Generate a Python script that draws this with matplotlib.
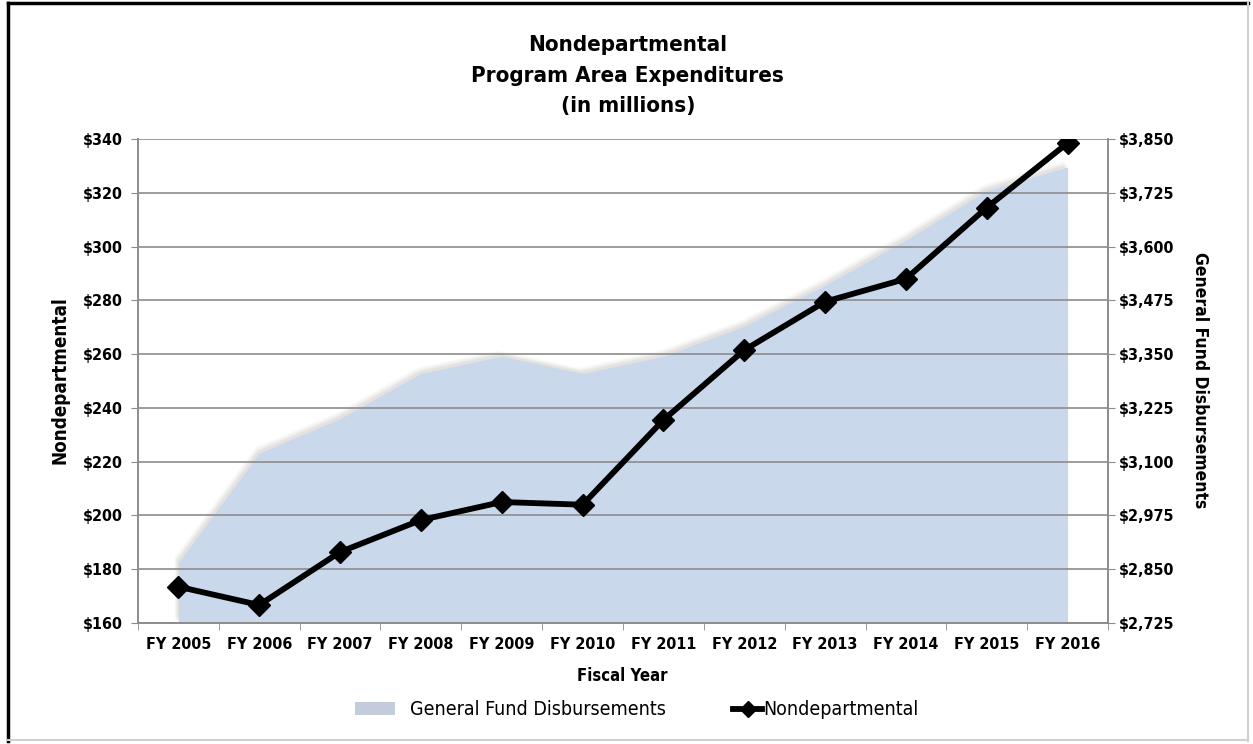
import matplotlib
matplotlib.use("Agg")
import matplotlib.pyplot as plt
from matplotlib.lines import Line2D
from matplotlib.patches import Patch
import matplotlib.transforms as mtransforms
import numpy as np

plt.rcParams['font.family'] = ['DejaVu Sans']
plt.rcParams['font.stretch'] = 'condensed'

years = ['FY 2005', 'FY 2006', 'FY 2007', 'FY 2008', 'FY 2009', 'FY 2010',
         'FY 2011', 'FY 2012', 'FY 2013', 'FY 2014', 'FY 2015', 'FY 2016']
nondept = [173.5, 166.7, 186.4, 198.3, 205.0, 204.0, 235.5, 261.5, 279.5, 288.0, 314.5, 338.5]
general_fund = [2865, 3120, 3200, 3305, 3345, 3305, 3345, 3415, 3510, 3615, 3730, 3785]

left_ticks = list(range(160, 341, 20))
right_ticks = list(range(2725, 3851, 125))

fig = plt.figure(figsize=(12.53, 7.44), dpi=100)
ax = fig.add_axes([0.1101, 0.1626, 0.7742, 0.6506])
ax2 = ax.twinx()
ax.set_zorder(ax2.get_zorder() + 1)
ax.patch.set_visible(False)

x = np.arange(len(years))
area_col = '#cad8eb'

# soft shadow on the area edge
for k, a in [(5, 0.05), (4, 0.06), (3, 0.08), (2, 0.1)]:
    tr = mtransforms.offset_copy(ax2.transData, fig=fig, x=-k * 0.6, y=k * 0.9, units='points')
    ax2.fill_between(x, 2725, general_fund, color='#9a9890', alpha=a, lw=0, transform=tr)
ax2.fill_between(x, 2725, general_fund, color=area_col, lw=0)

ax.plot(x, nondept, color='black', lw=4.2, marker='D', markersize=11, zorder=5)

ax.set_xlim(-0.5, 11.5)
ax.set_ylim(160, 340)
ax2.set_ylim(2725, 3850)

ax.set_yticks(left_ticks)
ax.set_yticklabels(['$%d' % v for v in left_ticks])
ax2.set_yticks(right_ticks)
ax2.set_yticklabels(['${:,}'.format(v) for v in right_ticks])

ax.set_xticks(x)
ax.set_xticklabels(years)
ax.set_xticks(np.arange(-0.5, 12, 1), minor=True)
ax.tick_params(axis='x', which='major', length=0, pad=10)
ax.tick_params(axis='x', which='minor', length=5, color='#8c8c8c')
ax.tick_params(axis='y', length=5, color='#8c8c8c', pad=6)
ax2.tick_params(axis='y', length=5, color='#8c8c8c', pad=3)

for lab in ax.get_xticklabels() + ax.get_yticklabels() + ax2.get_yticklabels():
    lab.set_fontweight('bold')
    lab.set_fontsize(11.5)

ax.grid(axis='y', color='#8c8c8c', lw=1.2)
ax.set_axisbelow(True)
for a in (ax, ax2):
    a.spines['top'].set_visible(False)
    for s in ('left', 'right', 'bottom'):
        a.spines[s].set_color('#8c8c8c')
        a.spines[s].set_linewidth(1.2)

fig.text(0.501, 0.898, 'Nondepartmental\nProgram Area Expenditures\n(in millions)',
         ha='center', va='center', fontsize=16, fontweight='bold', linespacing=1.65)
fig.text(0.048, 0.489, 'Nondepartmental', rotation=90, ha='center', va='center',
         fontsize=13.5, fontweight='bold')
fig.text(0.958, 0.489, 'General Fund Disbursements', rotation=270, ha='center', va='center',
         fontsize=12.5, fontweight='bold')
fig.text(0.497, 0.091, 'Fiscal Year', ha='center', va='center', fontsize=12, fontweight='bold')

leg1 = fig.legend([Patch(facecolor='#c4ccdc', edgecolor='none')], ['General Fund Disbursements'],
                  loc='center left', bbox_to_anchor=(0.2833, 0.0457), frameon=False,
                  fontsize=14, handlelength=2.06, handletextpad=0.77,
                  borderpad=0, borderaxespad=0)
leg2 = fig.legend([Line2D([0], [0], color='black', lw=4.2, marker='D', markersize=8)],
                  ['Nondepartmental'],
                  loc='center left', bbox_to_anchor=(0.585, 0.0457), frameon=False,
                  fontsize=14, handlelength=1.5, handletextpad=0.05,
                  borderpad=0, borderaxespad=0)

# outer chart border
fig.add_artist(Line2D([0.006, 0.006], [0.004, 0.996], color='black', lw=2.5, transform=fig.transFigure))
fig.add_artist(Line2D([0.006, 0.996], [0.996, 0.996], color='black', lw=2.5, transform=fig.transFigure))
fig.add_artist(Line2D([0.996, 0.996], [0.004, 0.996], color='#d0d0d0', lw=1.5, transform=fig.transFigure))
fig.add_artist(Line2D([0.006, 0.996], [0.006, 0.006], color='#d0d0d0', lw=1.5, transform=fig.transFigure))

fig.savefig('out.png', dpi=100)
